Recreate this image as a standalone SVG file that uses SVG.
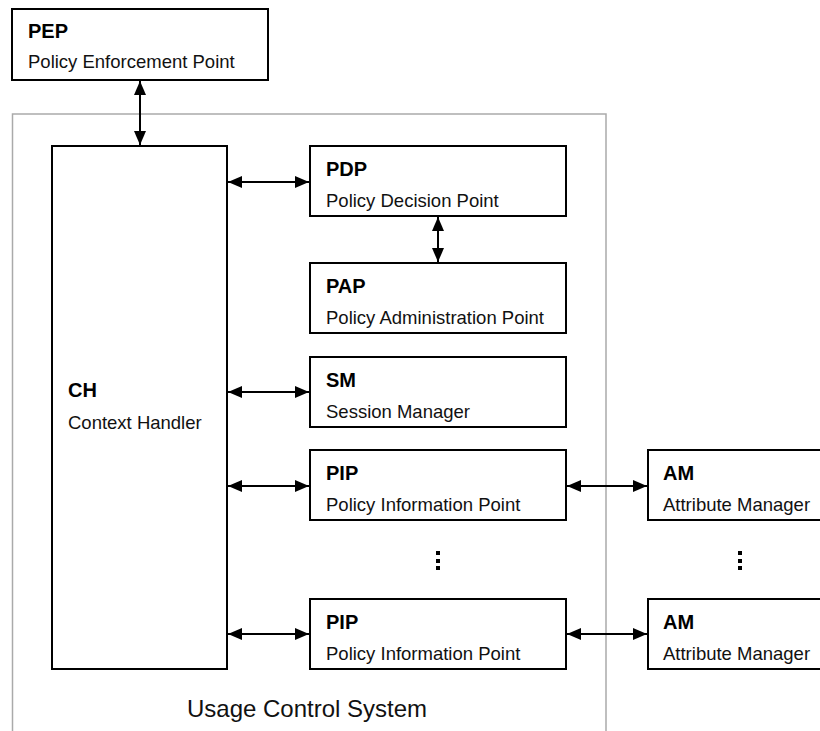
<svg xmlns="http://www.w3.org/2000/svg" width="820" height="731" viewBox="0 0 820 731">
  <defs>
    <marker id="ah" viewBox="0 0 14 12" refX="14" refY="6" markerWidth="14" markerHeight="12" markerUnits="userSpaceOnUse" orient="auto-start-reverse">
      <path d="M0,0 L14,6 L0,12 z" fill="#000"/>
    </marker>
  </defs>
  <style>
    .box { fill: #fff; stroke: #000; stroke-width: 2; }
    .sys { fill: none; stroke: #aaa; stroke-width: 1.5; }
    .t { font-family: "Liberation Sans", Arial, sans-serif; font-weight: bold; font-size: 20px; fill: #000; }
    .s { font-family: "Liberation Sans", Arial, sans-serif; font-size: 18.5px; fill: #111; }
    .lbl { font-family: "Liberation Sans", Arial, sans-serif; font-size: 24px; fill: #111; text-anchor: middle; }
    .c { stroke: #000; stroke-width: 2; fill: none; marker-start: url(#ah); marker-end: url(#ah); }
    .dot { fill: #000; }
  </style>
  <rect width="820" height="731" fill="#fff"/>

  <g id="system">
    <rect class="sys" x="12.5" y="114" width="593.5" height="630"/>
    <text class="lbl" x="307" y="717">Usage Control System</text>
  </g>

  <g id="pep">
    <rect class="box" x="12" y="9" width="256" height="71"/>
    <text class="t" x="28" y="38">PEP</text>
    <text class="s" x="28" y="68">Policy Enforcement Point</text>
  </g>

  <g id="ch">
    <rect class="box" x="52" y="146" width="175" height="523"/>
    <text class="t" x="68" y="397">CH</text>
    <text class="s" x="68" y="429">Context Handler</text>
  </g>

  <g id="pdp">
    <rect class="box" x="310" y="146" width="256" height="70"/>
    <text class="t" x="326" y="176">PDP</text>
    <text class="s" x="326" y="207">Policy Decision Point</text>
  </g>

  <g id="pap">
    <rect class="box" x="310" y="263" width="256" height="70"/>
    <text class="t" x="326" y="293">PAP</text>
    <text class="s" x="326" y="324">Policy Administration Point</text>
  </g>

  <g id="sm">
    <rect class="box" x="310" y="357" width="256" height="70"/>
    <text class="t" x="326" y="387">SM</text>
    <text class="s" x="326" y="418">Session Manager</text>
  </g>

  <g id="pip1">
    <rect class="box" x="310" y="450" width="256" height="70"/>
    <text class="t" x="326" y="480">PIP</text>
    <text class="s" x="326" y="511">Policy Information Point</text>
  </g>

  <g id="pip2">
    <rect class="box" x="310" y="599" width="256" height="70"/>
    <text class="t" x="326" y="629">PIP</text>
    <text class="s" x="326" y="660">Policy Information Point</text>
  </g>

  <g id="am1">
    <rect class="box" x="648" y="450" width="200" height="70"/>
    <text class="t" x="663" y="480">AM</text>
    <text class="s" x="663" y="511">Attribute Manager</text>
  </g>

  <g id="am2">
    <rect class="box" x="648" y="599" width="200" height="70"/>
    <text class="t" x="663" y="629">AM</text>
    <text class="s" x="663" y="660">Attribute Manager</text>
  </g>

  <g id="ellipses">
    <rect class="dot" x="436" y="551" width="4" height="4"/>
    <rect class="dot" x="436" y="559" width="4" height="4"/>
    <rect class="dot" x="436" y="566" width="4" height="4"/>
    <rect class="dot" x="738" y="551" width="4" height="4"/>
    <rect class="dot" x="738" y="559" width="4" height="4"/>
    <rect class="dot" x="738" y="566" width="4" height="4"/>
  </g>

  <g id="connectors">
    <line class="c" x1="140" y1="81" x2="140" y2="145"/>
    <line class="c" x1="228" y1="182" x2="309" y2="182"/>
    <line class="c" x1="438" y1="217" x2="438" y2="262"/>
    <line class="c" x1="228" y1="392" x2="309" y2="392"/>
    <line class="c" x1="228" y1="486" x2="309" y2="486"/>
    <line class="c" x1="567" y1="486" x2="647" y2="486"/>
    <line class="c" x1="228" y1="634" x2="309" y2="634"/>
    <line class="c" x1="567" y1="634" x2="647" y2="634"/>
  </g>
</svg>
